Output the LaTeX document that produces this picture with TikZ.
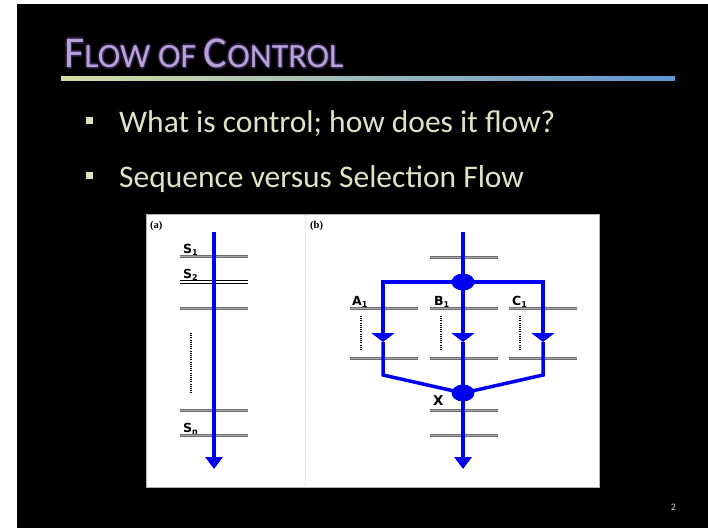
\documentclass[tikz,border=0pt]{standalone}
\usepackage{fontspec}
\setmainfont{Carlito}
\newfontfamily\lblfont{DejaVu Sans}
\newfontfamily\serfont{Liberation Serif}
\usetikzlibrary{shapes.geometric,arrows.meta}
\definecolor{titlec}{HTML}{B8A2DA}
\definecolor{glowc}{HTML}{4A3470}
\definecolor{txtc}{HTML}{DCE4C4}
\definecolor{gA}{HTML}{D4DCA0}
\definecolor{gB}{HTML}{9CC0BC}
\definecolor{gC}{HTML}{5E96D2}
\definecolor{bluec}{HTML}{0000F0}
\definecolor{dgray}{HTML}{6E6E6E}
\definecolor{lgray}{HTML}{A8A8A8}
\newcommand\flowtitle{\fontsize{44}{44}\selectfont F\fontsize{34}{34}\selectfont LOW OF \fontsize{44}{44}\selectfont C\fontsize{34}{34}\selectfont ONTROL}
\newcommand\lsub[1]{\raisebox{-0.3ex}{\fontsize{8}{8}\selectfont #1}}
\begin{document}
\begin{tikzpicture}[x=1pt,y=-1pt,
  bl/.style={draw=bluec, line width=3.5pt},
  maintip/.style={-{Triangle[width=17pt,length=12pt]}},
  midtip/.style={-{Triangle[width=23pt,length=9pt]}},
  dline/.style={draw=dgray, double=lgray, double distance=0.8pt, line width=1.1pt},
  bedge/.style={draw=black, line width=0.9pt},
  dotl/.style={draw=black, line width=1.3pt, dash pattern=on 1pt off 1.2pt},
  lbl/.style={font=\lblfont\bfseries\fontsize{12.5}{12.5}\selectfont, inner sep=0, anchor=base west},
  plbl/.style={font=\serfont\bfseries\fontsize{10.5}{10.5}\selectfont, inner sep=0, anchor=base west},
  blob/.style={ellipse, fill=bluec, minimum width=23pt, minimum height=17pt, inner sep=0},
  btxt/.style={text=txtc, font=\fontsize{31.5}{31.5}\selectfont, inner sep=0, anchor=base west}]
\useasboundingbox (0,0) rectangle (708,528);
\fill[white] (0,0) rectangle (708,528);
\fill[black] (17,4) rectangle (708,528);
% title glow and title
\foreach \dx/\dy in {-1.6/0,1.6/0,0/-1.6,0/1.8,0.8/2.6}
  \node[inner sep=0, anchor=base west, text=glowc, text opacity=0.5] at (64+\dx,67+\dy) {\flowtitle};
\node[inner sep=0, anchor=base west, text=titlec] (title) at (64,67) {\flowtitle};
\shade[left color=gA, middle color=gB, right color=gC] (61,76) rectangle (675,80);
% bullets
\fill[txtc] (86,117) rectangle (93,124);
\fill[txtc] (86,172) rectangle (93,179);
\node[btxt] (b1) at (119,132) {What is control; how does it flow?};
\node[btxt] (b2) at (119,187) {Sequence versus Selection Flow};
% diagram box
\draw[fill=white, draw=gray!60] (146,214) rectangle (599,487);
\draw[gray!40, dotted] (305,215) -- (305,486);
\node[plbl] (pa) at (150,228) {(a)};
\node[plbl] (pb) at (310,228) {(b)};
% panel (a)
\draw[dline] (180,256) -- (248,256);
\draw[bedge] (180,280.8) -- (248,280.8);
\draw[bedge] (180,283.4) -- (248,283.4);
\draw[dline] (180,308) -- (248,308);
\draw[dline] (180,410) -- (248,410);
\draw[dline] (180,435) -- (248,435);
\draw[dotl] (191,333) -- (191,393);
\node[lbl] (s1) at (183,253) {S\lsub{1}};
\node[lbl] (s2) at (183,278) {S\lsub{2}};
\node[lbl] (sn) at (183,432) {S\lsub{n}};
\coordinate (atop) at (214,232);
\coordinate (abot) at (214,469);
\draw[bl, maintip] (atop) -- (abot);
% panel (b) lines
\draw[dline] (430,257) -- (498,257);
\foreach \y in {308,358} {
  \draw[dline] (350,\y) -- (418,\y);
  \draw[dline] (430,\y) -- (498,\y);
  \draw[dline] (509,\y) -- (577,\y);
}
\draw[dline] (430,410) -- (498,410);
\draw[dline] (430,435) -- (498,435);
\draw[dotl] (361,316) -- (361,351);
\draw[dotl] (441,316) -- (441,351);
\draw[dotl] (520,316) -- (520,351);
\node[lbl] (a1) at (352,305) {A\lsub{1}};
\node[lbl] (b1l) at (434,305) {B\lsub{1}};
\node[lbl] (c1) at (512,305) {C\lsub{1}};
\node[lbl, font=\lblfont\bfseries\fontsize{13.5}{13.5}\selectfont] (xl) at (433,405) {X};
% panel (b) flow
\node[blob] (fork) at (463,282) {};
\node[blob] (join) at (463,393) {};
\coordinate (btop) at (463,232);
\coordinate (bbot) at (463,469);
\coordinate (la) at (383,342);
\coordinate (ma) at (463,342);
\coordinate (ra) at (543,342);
\coordinate (lb) at (383,375);
\coordinate (rb) at (543,375);
\draw[bl] (btop) -- (fork.center);
\draw[bl, midtip] (fork.center) -| (la);
\draw[bl, midtip] (fork.center) -| (ra);
\draw[bl, midtip] (fork.center) -- (ma);
\draw[bl] (la) -- (lb) -- (join.center);
\draw[bl] (ra) -- (rb) -- (join.center);
\draw[bl] (ma) -- (join.center);
\draw[bl, maintip] (join.center) -- (bbot);
% page number
\node[inner sep=0, anchor=base, text=gray!30, font=\fontsize{10}{10}\selectfont] (pg) at (673.5,510) {2};
\end{tikzpicture}
\end{document}
